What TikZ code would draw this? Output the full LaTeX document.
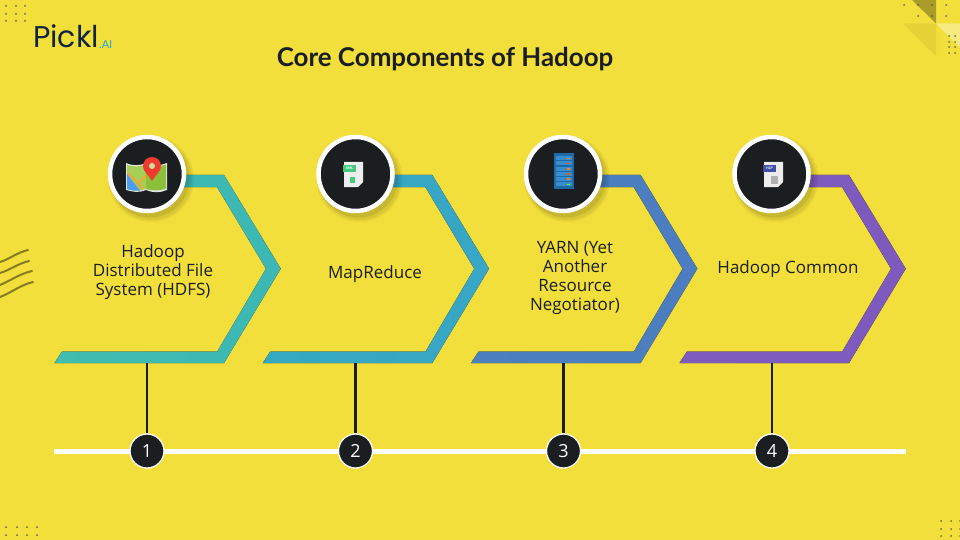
\documentclass[tikz,border=0pt]{standalone}
\usepackage{fontspec}
\setmainfont{Lato}
\newfontfamily\logofont{Poppins}
\newfontfamily\labelfont{Open Sans}
\usetikzlibrary{positioning,shapes.geometric}
\definecolor{bgyellow}{HTML}{F3DF3B}
\definecolor{inkblack}{HTML}{1A1E21}
\definecolor{logonavy}{HTML}{0F2440}
\definecolor{logoblue}{HTML}{1FA8E0}
\definecolor{tealL}{HTML}{3FBDAE}
\definecolor{tealR}{HTML}{3CB7B6}
\definecolor{cyanL}{HTML}{34A9C0}
\definecolor{cyanR}{HTML}{38A6C6}
\definecolor{blueL}{HTML}{4A80BE}
\definecolor{blueR}{HTML}{4C7DC0}
\definecolor{purpleL}{HTML}{7D5CBE}
\definecolor{purpleR}{HTML}{7F5ABE}
\definecolor{mapedge}{HTML}{E4E4E4}
\definecolor{mapgreenA}{HTML}{A4CE55}
\definecolor{mapgreenB}{HTML}{8CBF3A}
\definecolor{mapblue}{HTML}{4A9DF0}
\definecolor{maproad}{HTML}{F2A63A}
\definecolor{pinred}{HTML}{F0392F}
\definecolor{pagegrey}{HTML}{EDEDED}
\definecolor{xmlgreen}{HTML}{46C97F}
\definecolor{hlpblue}{HTML}{3F51A5}
\definecolor{rackblue}{HTML}{1E6AA8}
\definecolor{unitblue}{HTML}{3A8DCC}
\newcommand{\chevron}[3]{\fill[left color=#2,right color=#3,shift={(#1,0)}] (54.5,363) -- (62,351.5) -- (217.3,351.5) -- (266,268.7) -- (217,187) -- (180,187) -- (180,175) -- (224,175) -- (280.7,268.7) -- (224,363) -- cycle;}
\newcommand{\softshadow}[1]{\fill[black,opacity=.05] (#1) ++(4,5) circle (43); \fill[black,opacity=.06] (#1) ++(4,5) circle (41); \fill[black,opacity=.08] (#1) ++(3,4) circle (39.5);}
\begin{document}
\begin{tikzpicture}[
    x=1pt,y=-1pt,
    ring/.style={circle,fill=inkblack,draw=white,line width=4.5pt,minimum size=74pt,inner sep=0pt},
    numdot/.style={circle,fill=inkblack,draw=white,line width=1.3pt,minimum size=34pt,inner sep=0pt,text=white,font=\labelfont\fontsize{18}{18}\selectfont},
    steplabel/.style={align=center,text=inkblack,font=\labelfont\fontsize{17}{19}\selectfont},
    stem/.style={draw=inkblack,line width=2.4pt},
    dot/.style={fill=inkblack!80,opacity=.8},
    wave/.style={draw=black!45!bgyellow,line width=2pt,line cap=round}
]
\useasboundingbox[fill=bgyellow] (0,0) rectangle (960,540);

% Corner decoration
\fill[black!30!bgyellow] (912,0) -- (936,0) -- (936,23.5) -- cycle;
\fill[black!6!bgyellow] (903,23.5) -- (936,23.5) -- (936,56) -- cycle;
\fill[white!35!bgyellow] (936,23.5) -- (960,23.5) -- (960,48) -- cycle;
\foreach \px/\py in {6/6,16/6,25/6,6/14,16/14,25/14,6/21,16/21,25/21,
    6/527,17/527,27/527,37/527,6/535,17/535,27/535,37/535,
    941/521,951/521,960/521,941/529,951/529,960/529,941/536,951/536,960/536,
    904/5,918/5,932/5,946/5,918/16,932/16,946/16,
    949/36,955/36,949/42,955/42,949/47,955/47,949/53,955/53}
    \fill[dot] (\px,\py) circle (1);

% Waves
\draw[wave] (0,262) .. controls (10,259) and (16,253) .. (28,250);
\draw[wave] (0,273) .. controls (10,270) and (17,264) .. (29,261);
\draw[wave] (0,285) .. controls (10,281) and (19,274) .. (32,271);
\draw[wave] (0,297) .. controls (11,293) and (20,285) .. (33,282);

% Logo
\node[anchor=base west,inner sep=0pt,text=logonavy,font=\logofont\fontsize{30}{30}\selectfont] (logo) at (33,48) {Pickl};
\node[anchor=base west,inner sep=0pt,text=logoblue,font=\fontsize{11}{11}\selectfont] (logoai) at (99,49) {.AI};

% Title
\node[text=inkblack,font=\bfseries\fontsize{25.9}{30}\selectfont] (title) at (445,59) {Core Components of Hadoop};

% Timeline
\coordinate (lineL) at (54,451);
\coordinate (lineR) at (906,451);
\draw[white,line width=5pt] (lineL) -- (lineR);

% Chevrons
\chevron{0}{tealL}{tealR}
\chevron{208.3}{cyanL}{cyanR}
\chevron{416.6}{blueL}{blueR}
\chevron{625}{purpleL}{purpleR}

% Circles
\softshadow{147,174}
\softshadow{355.5,174}
\softshadow{563,174}
\softshadow{771.5,174}
\node[ring] (icon1) at (147,174) {};
\node[ring] (icon2) at (355.5,174) {};
\node[ring] (icon3) at (563,174) {};
\node[ring] (icon4) at (771.5,174) {};

% Map icon
\fill[mapedge] (126,163) .. controls (133,166) and (139,166) .. (146,163) .. controls (153,166) and (160,166) .. (167,163) -- (167,190) .. controls (160,193) and (153,193) .. (146,190) .. controls (139,193) and (133,192) .. (126,190) -- cycle;
\fill[mapgreenA] (127,165) .. controls (133,167) and (139,167) .. (146,164.5) -- (146,189) .. controls (139,191.5) and (133,191) .. (127,189) -- cycle;
\fill[mapgreenB] (146,164.5) .. controls (153,167) and (160,167) .. (166,164.5) -- (166,188.5) .. controls (160,191) and (153,191) .. (146,189) -- cycle;
\fill[mapblue] (127,174) -- (140,190.5) .. controls (135,191) and (131,190.5) .. (127,189) -- cycle;
\draw[maproad,line width=2pt] (128,173) -- (143,189);
\draw[maproad,line width=2pt] (137,184) -- (146,176);
\fill[pinred] (152,181) .. controls (149,175) and (143,172) .. (143,166) arc[start angle=180,end angle=360,radius=9] .. controls (161,172) and (155,175) .. (152,181) -- cycle;
\fill[mapgreenA!60!white] (152,166) circle (3);

% XML file icon
\fill[pagegrey] (344,162) -- (363,162) -- (363,182) -- (358,187) -- (344,187) -- cycle;
\fill[xmlgreen] (343,165) rectangle (356,172);
\node[inner sep=0pt,text=white,font=\bfseries\fontsize{3.5}{4}\selectfont] (xmltag) at (349.5,168.5) {XML};
\fill[xmlgreen] (350,177) rectangle (355,183);

% Server icon
\fill[rackblue] (554,153) rectangle (574,189);
\fill[unitblue] (556,156.5) rectangle (572,160.5);
\fill[unitblue] (556,161.5) rectangle (572,165.5);
\fill[unitblue] (556,166.7) rectangle (572,170.7);
\fill[unitblue] (556,171.8) rectangle (572,175.8);
\fill[unitblue] (556,177) rectangle (572,181);
\fill[unitblue] (556,182.2) rectangle (572,186.2);
\fill[orange] (567,158) rectangle (570,159.5);
\fill[red!70!yellow] (567,163) rectangle (570,164.5);
\fill[orange] (567,168.2) rectangle (570,169.7);
\fill[red!70!yellow] (567,173.3) rectangle (570,174.8);
\fill[orange] (567,178.5) rectangle (570,180);
\fill[green!60!yellow] (567,183.7) rectangle (570,185.2);

% Help file icon
\fill[pagegrey] (764,162) -- (783,162) -- (783,182) -- (778,187) -- (764,187) -- cycle;
\fill[hlpblue] (763,165) rectangle (776,172);
\node[inner sep=0pt,text=white,font=\bfseries\fontsize{3.5}{4}\selectfont] (hlptag) at (769.5,168.5) {HLP};
\fill[black!30] (771,176) rectangle (778,184);

% Labels
\node[steplabel] (label1) at (153,272.5) {Hadoop\\Distributed File\\System (HDFS)};
\node[steplabel] (label2) at (375,274.5) {MapReduce};
\node[steplabel] (label3) at (575,278) {YARN (Yet\\Another\\Resource\\Negotiator)};
\node[steplabel] (label4) at (788,269.5) {Hadoop Common};

% Numbers
\node[numdot] (num1) at (147,451) {1};
\node[numdot] (num2) at (355.5,451) {2};
\node[numdot] (num3) at (563.5,451) {3};
\node[numdot] (num4) at (772,451) {4};

% Stems
\coordinate (base1) at (147,363);
\coordinate (base2) at (355.5,363);
\coordinate (base3) at (563.5,363);
\coordinate (base4) at (772,363);
\draw[stem] (base1) -- (num1);
\draw[stem] (base2) -- (num2);
\draw[stem] (base3) -- (num3);
\draw[stem] (base4) -- (num4);
\end{tikzpicture}
\end{document}
